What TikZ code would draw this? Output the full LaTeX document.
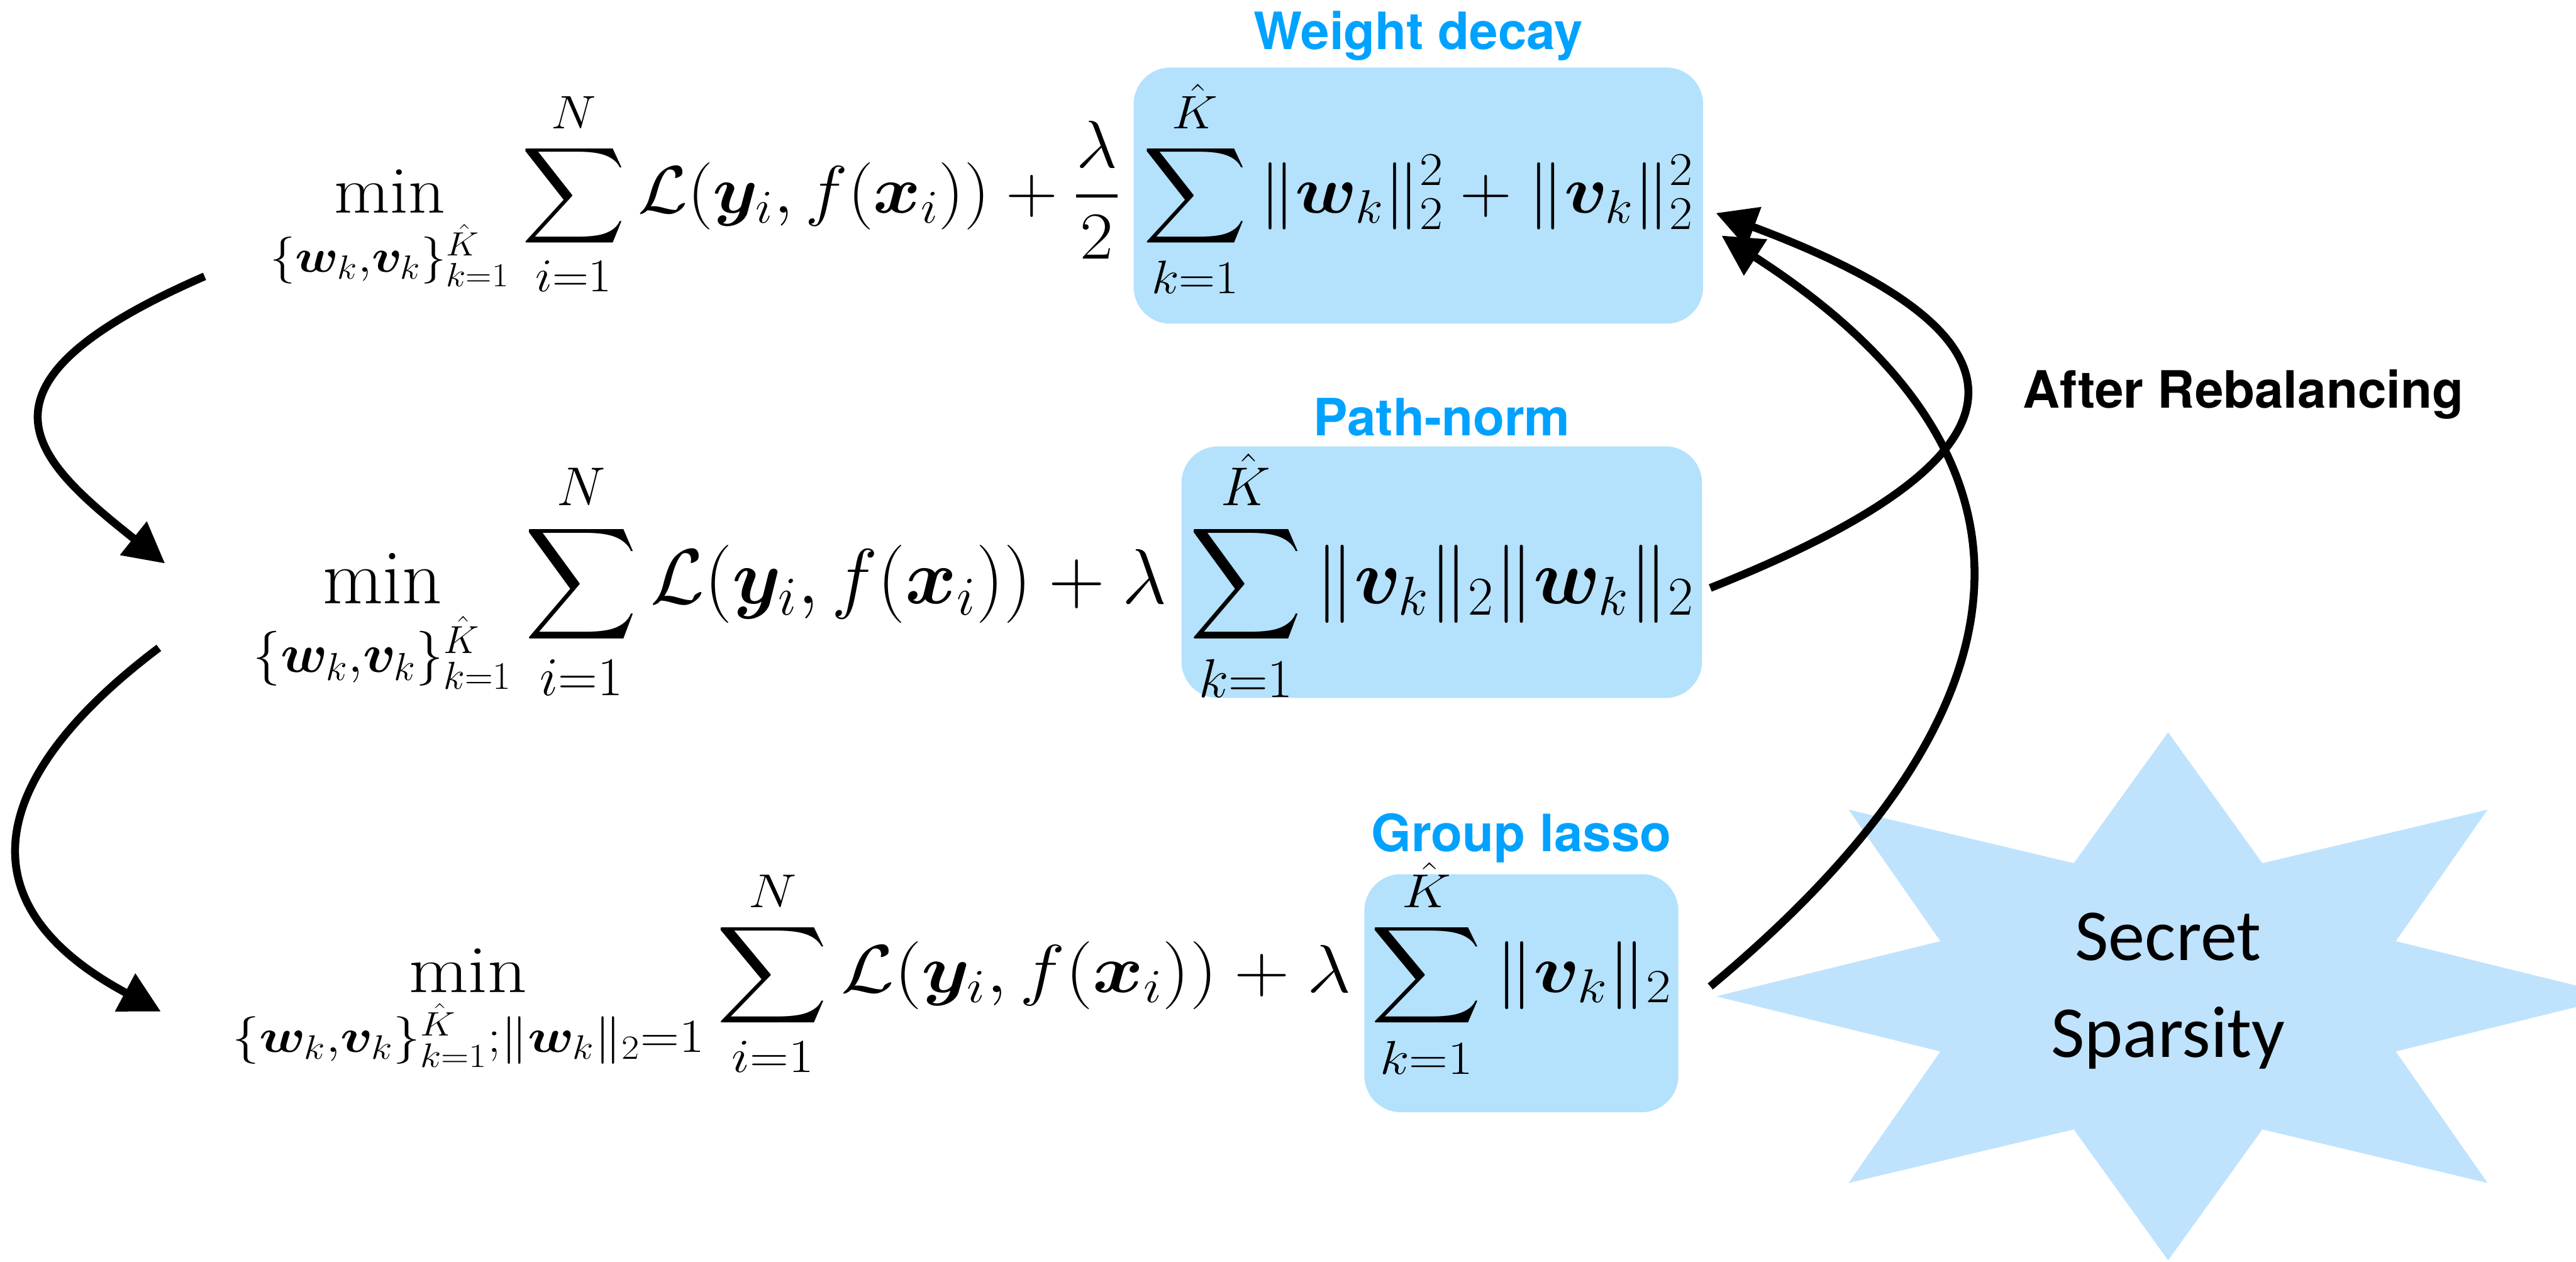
\RequirePackage{fix-cm}
\documentclass[tikz,border=0pt]{standalone}
\usepackage{graphicx}
\usepackage{amsmath,bm}
\DeclareFontShape{OMX}{cmex}{m}{n}{<->cmex10}{}
\usepackage{fontspec}
\newfontfamily\tagfont{TeX Gyre Heros}
\newfontfamily\starfont{Carlito}
\usetikzlibrary{positioning,arrows.meta}

\definecolor{tagblue}{RGB}{0,162,255}
\definecolor{boxblue}{RGB}{180,225,252}
\definecolor{starblue}{RGB}{191,227,253}
% display formula, squeezed vertically by #1
\newcommand\sqz[2]{\scalebox{1}[#1]{$\displaystyle #2$}}

\tikzset{
    eq/.style={font=\fontsize{#1}{#1}\selectfont, inner sep=0pt},
    eq/.default=39.5,
    reg/.style={eq=#1, fill=boxblue, rounded corners=0.65cm, inner sep=0pt},
    reg/.default=39.5,
    tag/.style={font=\tagfont\bfseries\fontsize{26}{30}\selectfont, text=tagblue, inner sep=0pt},
    flow/.style={-{Triangle[length=0.72cm,width=0.73cm]}, line width=0.14cm},
}

\begin{document}
\begin{tikzpicture}
    \useasboundingbox (0,0) rectangle (45.78,-22.42);

    % Star
    \coordinate (sp) at (38.53,-17.70);
    \fill[starblue] ([shift={(sp)}]90:8.03 and 4.69)
        \foreach \a in {90,135,...,405} {
            -- ([shift={(sp)}]\a+22.5:4.38 and 2.56) -- ([shift={(sp)}]\a+45:8.03 and 4.69)
        } -- cycle;
    \node[font=\starfont\fontsize{37}{49}\selectfont, align=center] (secret) at (38.53,-17.60) {Secret\\Sparsity};

    % Weight decay
    \node[reg=36.5, anchor=base west, minimum width=10.12cm, text height=2.58cm, text depth=1.97cm] (wd) at (20.14,-3.78)
        {\sqz{0.93}{\sum_{k=1}^{\hat K}\|\bm w_k\|_2^2+\|\bm v_k\|_2^2}};
    \node[eq=36.5, anchor=base east] (r1) at ([xshift=-0.23cm]wd.base west)
        {\sqz{0.93}{\min_{\{\bm w_k,\bm v_k\}_{k=1}^{\hat K}}\sum_{i=1}^{N}\mathcal{L}(\bm y_i,f(\bm x_i))+\frac{\lambda}{2}}};
    \node[tag, anchor=base] (wdtag) at ([yshift=0.32cm]wd.north) {Weight decay};

    % Path-norm
    \node[reg, anchor=base west, minimum width=9.25cm, text height=2.79cm, text depth=1.68cm] (pn) at (20.99,-10.72)
        {$\displaystyle\sum_{k=1}^{\hat K}\|\bm v_k\|_2\|\bm w_k\|_2$};
    \node[eq, anchor=base east] (r2) at ([xshift=-0.24cm]pn.base west)
        {$\displaystyle\min_{\{\bm w_k,\bm v_k\}_{k=1}^{\hat K}}\sum_{i=1}^{N}\mathcal{L}(\bm y_i,f(\bm x_i))+\lambda$};
    \node[tag, anchor=base] (pntag) at ([yshift=0.18cm]pn.north) {Path-norm};

    % Group lasso
    \node[reg=39, anchor=base west, minimum width=5.58cm, text height=2.10cm, text depth=2.13cm] (gl) at (24.24,-17.63)
        {\sqz{0.88}{\sum_{k=1}^{\hat K}\|\bm v_k\|_2}};
    \node[eq=39, anchor=base east] (r3) at ([xshift=-0.22cm]gl.base west)
        {\sqz{0.88}{\min_{\{\bm w_k,\bm v_k\}_{k=1}^{\hat K};\|\bm w_k\|_2=1}\sum_{i=1}^{N}\mathcal{L}(\bm y_i,f(\bm x_i))+\lambda}};
    \node[tag, anchor=base] (gltag) at ([yshift=0.39cm]gl.north) {Group lasso};

    \node[tag, text=black, anchor=base west] (after) at (35.94,-7.25) {After Rebalancing};

    % Left arrows
    \draw[flow] ([shift={(-1.16,-1.13)}]r1.base west) .. controls +(-4.48,-1.95) and +(-2.31,1.84) .. ([shift={(-1.56,0.71)}]r2.base west);
    \draw[flow] ([shift={(-1.67,-0.79)}]r2.base west) .. controls +(-2.86,-2.15) and +(-3.72,1.99) .. ([shift={(-1.26,-0.34)}]r3.base west);

    % Right arrows
    \draw[flow] ([shift={(0.14,-0.28)}]pn.east) .. controls +(6.12,2.43) and +(5.76,-2.15) .. ([shift={(0.22,-0.31)}]wd.east);
    \draw[flow] ([shift={(0.56,0.12)}]gl.east) .. controls +(5.70,4.74) and +(6.31,-4.06) .. ([shift={(0.32,-0.71)}]wd.east);
\end{tikzpicture}
\end{document}
